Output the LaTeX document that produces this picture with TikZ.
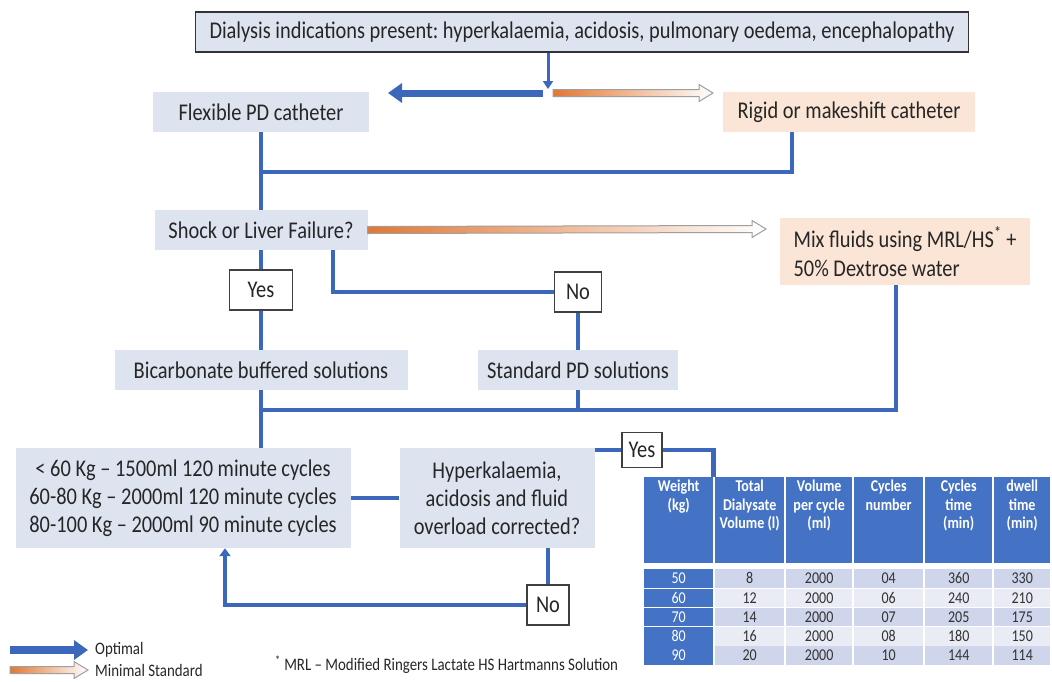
\documentclass[tikz,border=0pt]{standalone}
\usepackage{fontspec}
\setmainfont{Carlito}[FakeStretch=0.85]
\usetikzlibrary{arrows.meta, calc, positioning}
\frenchspacing

\definecolor{lineblue}{RGB}{59,104,186}
\definecolor{boxblue}{RGB}{221,228,240}
\definecolor{boxpeach}{RGB}{251,229,214}
\definecolor{hdrblue}{RGB}{68,114,196}
\definecolor{rowA}{RGB}{207,213,234}
\definecolor{rowB}{RGB}{233,235,245}
\definecolor{orangeA}{RGB}{226,120,52}

\tikzset{
  box/.style={fill=boxblue, minimum height=40pt, inner sep=4pt, align=center,
    font=\fontsize{24}{28}\selectfont, text=black!85},
  alt/.style={box, fill=boxpeach},
  tag/.style={draw=black!75, line width=1.2pt, fill=white, minimum height=40pt,
    inner sep=2pt, font=\fontsize{24}{28}\selectfont, text=black!85},
  flow/.style={draw=lineblue, line width=4.5pt},
  optimal/.style={draw=lineblue, line width=7pt, -{Triangle[length=14pt,width=19pt]}},
  cell/.style={anchor=north west, minimum height=18.4pt, inner sep=0pt,
    font=\fontsize{16.5}{17}\selectfont},
  hdr/.style={anchor=north west, fill=hdrblue, minimum height=86pt, inner sep=0pt},
  hdrtext/.style={align=center, text=white, inner sep=0pt,
    font=\bfseries\fontsize{16.5}{18.5}\selectfont},
  note/.style={anchor=west, inner sep=0pt, font=\fontsize{17.5}{20}\selectfont, text=black!85}
}

% orange to white arrow, the minimal standard
\newcommand\minarrow[2]{%
  \shade[draw=gray!75, line width=1pt, left color=orangeA, right color=white]
    ($(#1)+(0,3.5)$) -- ($(#2)+(-14,3.5)$) -- ($(#2)+(-14,8.5)$) -- (#2)
    -- ($(#2)+(-14,-8.5)$) -- ($(#2)+(-14,-3.5)$) -- ($(#1)+(0,-3.5)$) -- cycle;}

\begin{document}
\begin{tikzpicture}[x=1pt, y=-1pt]
\useasboundingbox[fill=white] (0,0) rectangle (1052,681);

% boxes
\node[box, draw=black!80, line width=1.5pt, minimum width=773pt] (top) at (582,32)
  {Dialysis indications present: hyperkalaemia, acidosis, pulmonary oedema, encephalopathy};
\node[box, minimum width=216pt] (flex) at (261,112) {Flexible PD catheter};
\node[alt, minimum width=252pt] (rigid) at (849,112) {Rigid or makeshift catheter};
\node[box, minimum width=213pt] (shock) at (261,230) {Shock or Liver Failure?};
\node[alt, minimum width=250pt, minimum height=67pt, align=left,
  font=\fontsize{24}{29}\selectfont] (mix) at (905,251.5)
  {Mix fluids using MRL/HS\textsuperscript{*} +\\50\% Dextrose water};
\node[tag, minimum width=63pt] (yes1) at (261,290) {Yes};
\node[tag, minimum width=47pt] (no1) at (578,292) {No};
\node[box, minimum width=293pt] (bicarb) at (261,370) {Bicarbonate buffered solutions};
\node[box, minimum width=200pt] (std) at (578,370) {Standard PD solutions};
\node[box, minimum width=335pt, minimum height=100pt] (dose) at (183,498)
  {< 60 Kg -- 1500ml 120 minute cycles\\60-80 Kg -- 2000ml 120 minute cycles\\80-100 Kg -- 2000ml 90 minute cycles};
\node[box, minimum width=195pt, minimum height=100pt] (hyper) at (497,498)
  {Hyperkalaemia,\\acidosis and fluid\\overload corrected?};
\node[tag, minimum width=40pt, minimum height=35pt] (yes2) at (642,450) {Yes};
\node[tag, minimum width=42pt] (no2) at (548,605) {No};

% split under the indications
\coordinate (split) at (548,89);
\coordinate (optS) at (543,93);
\coordinate (optE) at (388,93);
\coordinate (minS) at (553,93);
\coordinate (minE) at (713,93);
\coordinate (mixin) at (766,229);
\coordinate (j1) at (261,172);
\coordinate (j2) at (261,410);

\draw[flow, line width=3pt, -{Triangle[length=8pt,width=10pt]}] (top.south -| split) -- (split);
\draw[optimal] (optS) -- (optE);
\minarrow{minS}{minE}
\minarrow{shock.east}{mixin}

% connectors
\draw[flow] (flex.south) -- (shock.north);
\draw[flow] ([xshift=-57pt]rigid.south) |- (j1);
\draw[flow] (shock.south) -- (yes1.north);
\draw[flow] (yes1.south) -- (bicarb.north);
\draw[flow] ([xshift=72pt]shock.south) |- (no1.west);
\draw[flow] (no1.south) -- (std.north);
\draw[flow] (bicarb.south) -- (bicarb.south |- dose.north);
\draw[flow] ([xshift=-9pt]mix.south) |- (j2);
\draw[flow] (std.south) -- (std.south |- j2);
\draw[flow] (hyper.west) -- (dose.east);
\draw[flow] (hyper.east |- yes2) -- (yes2.west);
\draw[flow] (no2.north) -- (no2.north |- hyper.south);
\draw[flow, -{Triangle[length=8pt,width=11pt]}] (no2.west) -| ([xshift=42pt]dose.south);

% table
\foreach \x/\cw/\hd [count=\j] in {644/69/{Weight\\(kg)}, 715/69/{Total\\Dialysate\\Volume (l)},
    786/66/{Volume\\per cycle\\(ml)}, 854/69/{Cycles\\number}, 925/67/{Cycles\\time\\(min)},
    994/56/{dwell\\time\\(min)}} {
  \node[hdr, minimum width=\cw pt] (h\j) at (\x,477) {};
  \node[hdrtext, below=3pt of h\j.north] (ht\j) {\hd};
}
\draw[flow] (yes2.east) -| (h1.north east);
\foreach \w/\t/\v/\c/\ct/\d [count=\i] in {50/8/2000/04/360/330, 60/12/2000/06/240/210,
    70/14/2000/07/205/175, 80/16/2000/08/180/150, 90/20/2000/10/144/114} {
  \pgfmathsetmacro\ry{569+(\i-1)*19.3}
  \foreach \x/\cw/\val [count=\j] in {644/69/\w, 715/69/\t, 786/66/\v, 854/69/\c, 925/67/\ct, 994/56/\d} {
    \ifnum\j=1 \def\cf{hdrblue}\def\tc{white}\else
      \ifodd\i \def\cf{rowA}\else \def\cf{rowB}\fi \def\tc{black!80}\fi
    \node[cell, fill=\cf, text=\tc, minimum width=\cw pt] (c\i-\j) at (\x,\ry) {\val};
  }
}

% legend and note
\coordinate (legA) at (10,650);
\coordinate (legB) at (88,650);
\coordinate (legC) at (10,670);
\coordinate (legD) at (88,670);
\draw[optimal, line width=8pt] (legA) -- (legB);
\minarrow{legC}{legD}
\node[note, right=7pt of legB] (lopt) {Optimal};
\node[note, right=7pt of legD] (lmin) {Minimal Standard};
\node[note] (mrl) at (275,665) {\textsuperscript{*} MRL -- Modified Ringers Lactate HS Hartmanns Solution};
\end{tikzpicture}
\end{document}
